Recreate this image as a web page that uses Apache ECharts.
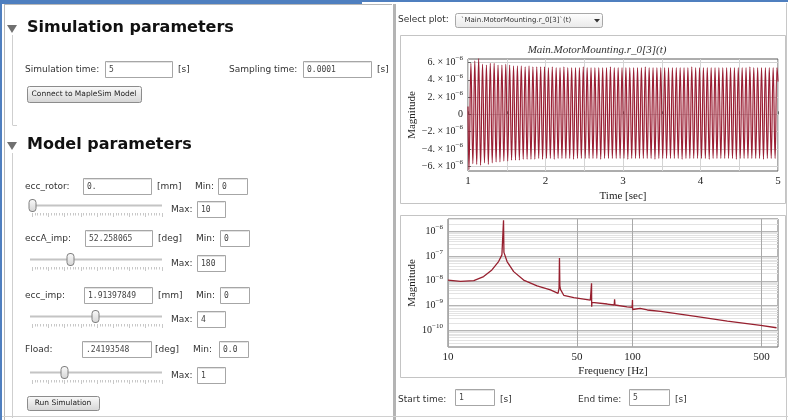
<!DOCTYPE html>
<html><head><meta charset="utf-8">
<script src="https://cdn.jsdelivr.net/npm/echarts@6/dist/echarts.min.js"></script>
<style>html,body{margin:0;padding:0;background:#fff;}#c{width:788px;height:420px;}</style>
</head><body><div id="c"></div><script>
// ---------- data ----------
// time-domain signal Main.MotorMounting.r_0[3](t), values in units of 1e-6
const timeStartSec = 1.0;
const signalPeriodSec = 0.05;          // 20 Hz, from the FFT peak
const timeStartValue = 0.9;
const timeEndSec = 5.0;
const timeEndValue = 3.8;
const upperPeaks = [5.9,6.2,6.5,5.8,5.7,5.9,5.9,5.7,5.7,5.8, 5.7,5.6,5.6,5.6,5.5,5.6,5.5,5.5,5.5,5.5,
  5.4,5.5,5.4,5.4,5.5,5.4,5.4,5.4,5.4,5.5, 5.4,5.4,5.4,5.4,5.4,5.4,5.5,5.4,5.4,5.4,
  5.4,5.4,5.4,5.4,5.4,5.5,5.4,5.4,5.4,5.4, 5.4,5.4,5.4,5.4,5.4,5.4,5.4,5.5,5.4,5.4,
  5.4,5.4,5.4,5.4,5.4,5.4,5.4,5.4,5.4,5.4, 5.4,5.4,5.5,5.4,5.4,5.4,5.4,5.4,5.4,5.4];
const lowerPeaks = [-6.4,-5.7,-5.8,-5.9,-5.6,-5.8,-5.6,-5.5,-5.5,-5.4, -5.4,-5.3,-5.3,-5.3,-5.2,-5.2,-5.2,-5.2,-5.1,-5.2,
  -5.1,-5.1,-5.2,-5.1,-5.1,-5.1,-5.1,-5.2,-5.1,-5.1, -5.1,-5.1,-5.1,-5.1,-5.2,-5.1,-5.1,-5.1,-5.1,-5.1,
  -5.1,-5.2,-5.1,-5.1,-5.1,-5.1,-5.1,-5.1,-5.2,-5.1, -5.1,-5.1,-5.1,-5.1,-5.1,-5.2,-5.1,-5.1,-5.1,-5.1,
  -5.1,-5.1,-5.2,-5.1,-5.1,-5.1,-5.1,-5.1,-5.1,-5.2, -5.1,-5.1,-5.1,-5.1,-5.1,-5.1,-5.2,-5.1,-5.1,-5.1];
const timeXLabels = [1,2,3,4,5];
const timeXGrid = [1,1.5,2,2.5,3,3.5,4,4.5,5];
const timeYLabels = [-6,-4,-2,0,2,4,6];

// spectrum
const fftFreqHz = [10,11.7,13.8,15.6,17.3,18.8,19.6,19.9,20.0,20.1,20.3,20.9,22.7,25.7,30.4,35.9,38.2,39.5,40.0,40.2,40.4,40.7,42.4,48.1,
  59.1,59.8,60.0,60.1,60.3,61.8,73,79.6,80.0,80.4,93.5,99.6,100,100.2,100.5,110,120.5,121,121.5,142,215,327,495,604];
const fftMagnitude = [1.07e-8,9.5e-9,1.02e-8,1.48e-8,2.75e-8,6.0e-8,1.12e-7,1.32e-7,2.8e-6,1.41e-7,1.32e-7,6.0e-8,2.35e-8,1.07e-8,6.2e-9,4.3e-9,3.5e-9,3.1e-9,5.0e-9,8.3e-8,6.3e-9,4.5e-9,2.6e-9,2.1e-9,
  1.66e-9,1.62e-9,7.9e-9,8.9e-10,1.35e-9,1.35e-9,1.15e-9,1.05e-9,1.78e-9,1.05e-9,8.9e-10,8.5e-10,1.66e-9,6.9e-10,8.3e-10,7.6e-10,6.6e-10,7.9e-10,6.6e-10,5.75e-10,3.7e-10,2.35e-10,1.58e-10,1.26e-10];
const fftXLabels = [10,50,100,500];
const fftYLabels = [1e-10,1e-9,1e-8,1e-7,1e-6];
const fftMinorDecades = [-11,-10,-9,-8,-7,-6];
const fftMinorMult = [2,3,4,5,6,7,8,9];

// ---------- build ----------
const timeData = [[timeStartSec, timeStartValue]];
for (let k = 0; k < upperPeaks.length; k++) {
  timeData.push([timeStartSec + signalPeriodSec*(k+0.25), lowerPeaks[k]]);
  timeData.push([timeStartSec + signalPeriodSec*(k+0.75), upperPeaks[k]]);
}
timeData.push([timeEndSec, timeEndValue]);
const fftData = fftFreqHz.map((f,i)=>[f, fftMagnitude[i]]);
const fftYMin = 2.1e-11, fftYMax = 3.16e-6;
const minorY = [];
fftMinorDecades.forEach(d=>fftMinorMult.forEach(m=>{const v=m*Math.pow(10,d); if(v>fftYMin && v<fftYMax) minorY.push(v);}));

const serif = '"Liberation Serif", "DejaVu Serif", serif';
const rich = {
  n:{fontFamily:serif,fontSize:10,color:'#222',lineHeight:15},
  s:{fontFamily:serif,fontSize:7,color:'#222',verticalAlign:'top'}
};

// ---------- UI graphics ----------
const G = [];
function txt(x,y,s,o){G.push({type:'text',silent:true,z:10,style:Object.assign({x:x,y:y,text:s,font:'9px "DejaVu Sans"',fill:'#333',align:'left',verticalAlign:'middle',textAlign:'left',textVerticalAlign:'middle'},o||{})});}
function rect(x,y,w,h,o){o=o||{};G.push({type:'rect',silent:true,z:(o.z!=null?o.z:5),shape:{x:x+0.5,y:y+0.5,width:w,height:h,r:o.r||0},style:{fill:o.fill||'#fff',stroke:o.stroke||'none',lineWidth:o.lw||1}});}
function ln(x1,y1,x2,y2,c,w){G.push({type:'line',silent:true,z:6,shape:{x1:x1,y1:y1,x2:x2,y2:y2},style:{stroke:c,lineWidth:w||1}});}
function input(x,y,w,h,val){rect(x,y,w,h,{stroke:'#a6a6a6'});ln(x+1.5,y+1.5,x+w-0.5,y+1.5,'#e2e2e2');txt(x+4,y+h/2+1,val,{font:'8px "DejaVu Sans Mono"',fill:'#444'});}
const btnGrad={type:'linear',x:0,y:0,x2:0,y2:1,colorStops:[{offset:0,color:'#fbfbfb'},{offset:1,color:'#d4d4d4'}]};
function button(x,y,w,h,label){rect(x,y,w,h,{fill:btnGrad,stroke:'#8c8c8c',r:2});txt(x+w/2,y+h/2+0.5,label,{font:'7.5px "DejaVu Sans"',fill:'#222',align:'center',textAlign:'center'});}
function slider(y,thumbX){
  ln(30,y+0.5,162,y+0.5,'#c4c4c4',2);
  for(let i=0;i<=48;i++){const x=Math.round(32+i*2.7)+0.5;const big=i%6===0;ln(x,y+8,x,y+(big?12:10.5),'#c8c8c8');}
  rect(thumbX-3.5,y-6,7,12,{fill:btnGrad,stroke:'#808080',r:3,z:7});
}
function tri(x,y){G.push({type:'polygon',silent:true,z:6,shape:{points:[[x,y],[x+10,y],[x+5,y+8]]},style:{fill:'#707070'}});}

// frame
rect(-0.5,-0.5,362,4,{fill:'#4f7fbf',z:8});
rect(361.5,-0.5,427,2,{fill:'#4f7fbf',z:8});
rect(-0.5,-0.5,2,420,{fill:'#4f7fbf',z:8});
ln(4.5,4,4.5,420,'#b8b8b8');
ln(4,4.5,392,4.5,'#b8b8b8');
rect(392.5,3.5,3,417,{fill:'#b4b4b4',z:6});
ln(786.5,3,786.5,420,'#c8c8c8');
ln(0,416.5,788,416.5,'#d0d0d0');

// Simulation parameters
tri(7,25);
txt(27,28,'Simulation parameters',{font:'bold 16px "DejaVu Sans"',fill:'#111'});
ln(12.5,35,12.5,125,'#cfcfcf');ln(12.5,125.5,17,125.5,'#cfcfcf');
txt(25,70,'Simulation time:');input(105,61,67,16,'5');txt(178,70,'[s]');
txt(229,70,'Sampling time:');input(303,61,68,16,'0.0001');txt(377,70,'[s]');
button(27,86,114,16,'Connect to MapleSim Model');

// Model parameters
tri(7,142);
txt(27,145,'Model parameters',{font:'bold 16px "DejaVu Sans"',fill:'#111'});
ln(12.5,153,12.5,418,'#cfcfcf');
const rows=[
  {y:187,label:'ecc_rotor:',ix:83,iw:68,val:'0.',unit:'[mm]',ux:157,mx:195,mix:218,min:'0',sy:205,tx:32,maxy:210,max:'10'},
  {y:239,label:'eccA_imp:',ix:85,iw:67,val:'52.258065',unit:'[deg]',ux:158,mx:196,mix:220,min:'0',sy:259,tx:70,maxy:264,max:'180'},
  {y:296,label:'ecc_imp:',ix:84,iw:68,val:'1.91397849',unit:'[mm]',ux:158,mx:196,mix:220,min:'0',sy:316,tx:95,maxy:320,max:'4'},
  {y:350,label:'Fload:',ix:82,iw:69,val:'.24193548',unit:'[deg]',ux:155,mx:193,mix:219,min:'0.0',sy:372,tx:64,maxy:376,max:'1'}
];
rows.forEach(r=>{
  txt(25,r.y,r.label);input(r.ix,r.y-9,r.iw,16,r.val);txt(r.ux,r.y,r.unit);
  txt(r.mx,r.y,'Min:');input(r.mix,r.y-9,29,16,r.min);
  slider(r.sy,r.tx);txt(171,r.maxy,'Max:');input(197,r.maxy-9,28,16,r.max);
});
button(27,396,72,14,'Run Simulation');

// right panel
txt(398,20,'Select plot:');
rect(455,13,147,14,{fill:{type:'linear',x:0,y:0,x2:0,y2:1,colorStops:[{offset:0,color:'#ffffff'},{offset:1,color:'#e8e8e8'}]},stroke:'#a8a8a8',r:2});
txt(461,20.5,'`Main.MotorMounting.r_0[3]`(t)',{font:'7px "DejaVu Sans"',fill:'#333'});
G.push({type:'polygon',silent:true,z:8,shape:{points:[[594,19],[600,19],[597,22.5]]},style:{fill:'#333'}});
rect(400,35,385,168,{fill:'transparent',stroke:'#c4c4c4',z:1});
rect(400,215,385,162,{fill:'transparent',stroke:'#c4c4c4',z:1});
txt(398,400,'Start time:');input(455,389,39,16,'1');txt(500,400,'[s]');
txt(578,400,'End time:');input(629,389,40,16,'5');txt(675,400,'[s]');

// ---------- chart ----------
const axisLabelStyle = {fontFamily:serif,fontSize:11,color:'#222'};
const option = {
  animation:false,
  backgroundColor:'#fff',
  title:[{text:'Main.MotorMounting.r_0[3](t)',left:592,top:40,textAlign:'center',
    textStyle:{fontFamily:serif,fontStyle:'italic',fontWeight:'normal',fontSize:11,color:'#333'}}],
  graphic:{elements:G},
  grid:[
    {left:468,top:59,width:310,height:112,show:true,borderColor:'#5a5a5a',borderWidth:1,backgroundColor:'#fff',containLabel:false,outerBoundsMode:'none'},
    {left:448,top:219,width:330,height:128,show:true,borderColor:'#6a6a6a',borderWidth:1,backgroundColor:'#fff',containLabel:false,outerBoundsMode:'none'}
  ],
  xAxis:[
    {gridIndex:0,type:'value',min:1,max:5,
     name:'Time [sec]',nameLocation:'middle',nameGap:20,nameTextStyle:axisLabelStyle,
     axisLine:{show:false},axisTick:{show:true,inside:true,length:3,customValues:timeXGrid,lineStyle:{color:'#666'}},
     axisLabel:Object.assign({customValues:timeXLabels,margin:5,formatter:v=>String(v)},axisLabelStyle),
     splitLine:{show:true,lineStyle:{color:'#d4d4d4',width:1}}},
    {gridIndex:1,type:'log',logBase:10,min:10,max:615,
     name:'Frequency [Hz]',nameLocation:'middle',nameGap:19,nameTextStyle:axisLabelStyle,
     axisLine:{show:false},axisTick:{show:false,customValues:fftXLabels},
     axisLabel:Object.assign({customValues:fftXLabels,margin:5,formatter:v=>String(Math.round(v))},axisLabelStyle),
     splitLine:{show:true,lineStyle:{color:'#a8a8a8',width:1}}}
  ],
  yAxis:[
    {gridIndex:0,type:'value',min:-6.55,max:6.4,
     name:'Magnitude',nameLocation:'middle',nameGap:50,nameRotate:90,nameTextStyle:axisLabelStyle,
     axisLine:{show:false},axisTick:{show:true,inside:true,length:3,customValues:timeYLabels,lineStyle:{color:'#666'}},
     axisLabel:{customValues:timeYLabels,margin:5,rich:rich,
       formatter:v=>v===0?'{n|0}':'{n|'+(v<0?'−':'')+Math.abs(v)+'. × 10}{s|−6}'},
     splitLine:{show:true,lineStyle:{color:'#d0d0d0',width:1}}},
    {gridIndex:1,type:'log',logBase:10,min:fftYMin,max:fftYMax,
     name:'Magnitude',nameLocation:'middle',nameGap:30,nameRotate:90,nameTextStyle:axisLabelStyle,
     axisLine:{show:false},axisTick:{show:false,customValues:fftYLabels},
     axisLabel:{customValues:fftYLabels,margin:5,rich:rich,
       formatter:v=>'{n|10}{s|−'+Math.round(-Math.log10(v))+'}'},
     splitLine:{show:true,lineStyle:{color:'#b4b4b4',width:1}}},
    {gridIndex:1,type:'log',logBase:10,min:fftYMin,max:fftYMax,
     axisLine:{show:false},axisTick:{show:false,customValues:minorY},
     axisLabel:{show:false,customValues:minorY},
     splitLine:{show:true,lineStyle:{color:'#e3e3e3',width:1}}}
  ],
  series:[
    {type:'line',xAxisIndex:0,yAxisIndex:0,data:timeData,showSymbol:false,symbol:'none',smooth:0.45,
     lineStyle:{color:'#9a1f34',width:1.2},z:3,silent:true},
    {type:'line',xAxisIndex:1,yAxisIndex:1,data:fftData,showSymbol:false,symbol:'none',
     lineStyle:{color:'#97202f',width:1.3},z:4,silent:true}
  ]
};
const chart = echarts.init(document.getElementById('c'),null,{renderer:'canvas',width:788,height:420});
chart.setOption(option);
</script></body></html>
